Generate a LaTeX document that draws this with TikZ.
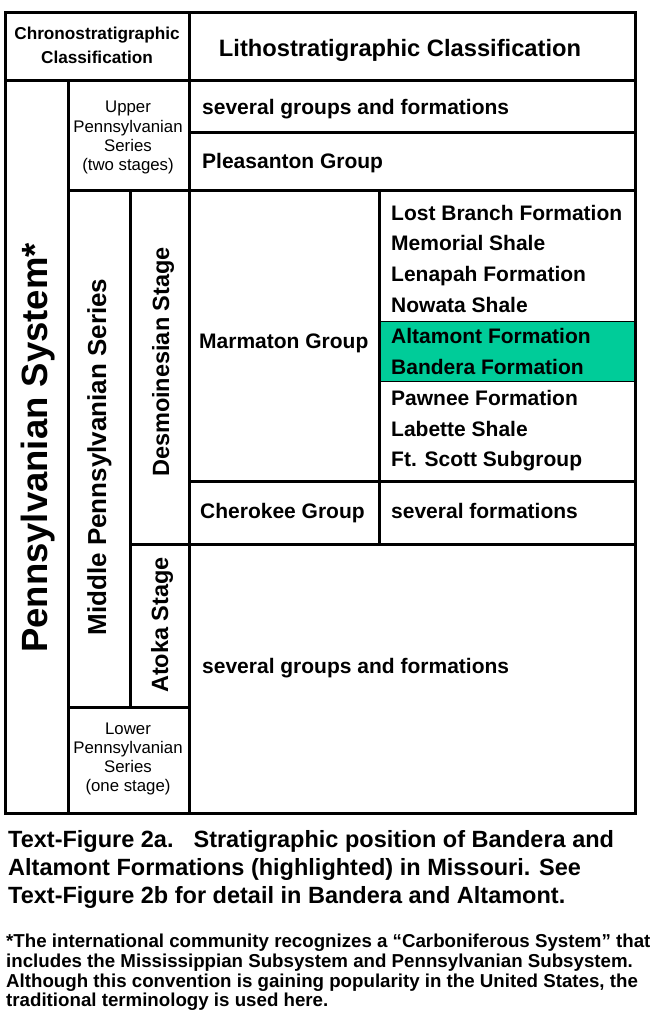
\documentclass[tikz,border=0pt]{standalone}
\usepackage{fontspec}
\setmainfont{Liberation Sans}
\definecolor{hlgreen}{RGB}{0,204,153}
\tikzset{
  tline/.style={line width=3pt, line cap=rect},
  thinline/.style={line width=1pt},
  litho/.style={anchor=base west, inner sep=0pt, font=\bfseries\fontsize{21}{25}\selectfont},
  hdrbig/.style={anchor=base, inner sep=0pt, font=\bfseries\fontsize{23.7}{27}\selectfont},
  hdrsmall/.style={anchor=base, inner sep=0pt, font=\bfseries\fontsize{17.2}{20}\selectfont},
  serieslab/.style={anchor=base, inner sep=0pt, font=\fontsize{16.8}{19}\selectfont},
  vlab/.style={anchor=base, inner sep=0pt, rotate=90, font=\bfseries\fontsize{23.5}{27}\selectfont},
  captxt/.style={anchor=base west, inner sep=0pt, font=\bfseries\fontsize{23.5}{28}\selectfont},
  fntxt/.style={anchor=base west, inner sep=0pt, font=\bfseries\fontsize{18.7}{20}\selectfont},
}
\begin{document}
\begin{tikzpicture}[x=1pt, y=-1pt]
\useasboundingbox[fill=white] (0,0) rectangle (657,1014);

% highlight
\fill[hlgreen] (379,321) rectangle (635,381);
\draw[thinline] (379,321) -- (635,321);
\draw[thinline] (379,381) -- (635,381);

% table grid
\draw[tline] (5,13) rectangle (635,813);
\draw[tline] (5,81) -- (635,81);
\draw[tline] (189,13) -- (189,813);
\draw[tline] (68,81) -- (68,813);
\draw[tline] (189,133) -- (635,133);
\draw[tline] (68,190) -- (635,190);
\draw[tline] (130,190) -- (130,707);
\draw[tline] (379,190) -- (379,544);
\draw[tline] (189,481) -- (635,481);
\draw[tline] (130,544) -- (635,544);
\draw[tline] (68,707) -- (189,707);

% headers
\node[hdrsmall] (ch1) at (97,40) {Chronostratigraphic};
\node[hdrsmall] (ch2) at (97,64) {Classification};
\node[hdrbig] (lh) at (400,57) {Lithostratigraphic Classification};

% upper series
\node[serieslab] (up1) at (128,113) {Upper};
\node[serieslab] (up2) at (128,132) {Pennsylvanian};
\node[serieslab] (up3) at (128,151) {Series};
\node[serieslab] (up4) at (128,170) {(two stages)};

% lower series
\node[serieslab] (lo1) at (128,734) {Lower};
\node[serieslab] (lo2) at (128,753) {Pennsylvanian};
\node[serieslab] (lo3) at (128,772) {Series};
\node[serieslab] (lo4) at (128,791) {(one stage)};

% vertical labels
\node[vlab, font=\bfseries\fontsize{36.5}{40}\selectfont] (sys) at (47,448) {Pennsylvanian System*};
\node[vlab, font=\bfseries\fontsize{26}{29}\selectfont] (mid) at (106,457) {Middle Pennsylvanian Series};
\node[vlab] (des) at (169,362) {Desmoinesian Stage};
\node[vlab] (ato) at (168,625) {Atoka Stage};

% lithostratigraphy
\node[litho] (sg1) at (202,115) {several groups and formations};
\node[litho] (ple) at (202,168) {Pleasanton Group};
\node[litho] (mar) at (199,348) {Marmaton Group};
\node[litho] (che) at (200,518) {Cherokee Group};
\node[litho] (sf) at (391,518) {several formations};
\node[litho] (sg2) at (202,673) {several groups and formations};

\node[litho] (f1) at (391,220) {Lost Branch Formation};
\node[litho] (f2) at (391,250.9) {Memorial Shale};
\node[litho] (f3) at (391,281.8) {Lenapah Formation};
\node[litho] (f4) at (391,312.5) {Nowata Shale};
\node[litho] (f5) at (391,343.4) {Altamont Formation};
\node[litho] (f6) at (391,374.3) {Bandera Formation};
\node[litho] (f7) at (391,405.2) {Pawnee Formation};
\node[litho] (f8) at (391,436) {Labette Shale};
\node[litho] (f9) at (391,466.5) {Ft. Scott Subgroup};

% caption
\node[captxt] (c1) at (8,847) {Text-Figure 2a.\hspace{20pt}Stratigraphic position of Bandera and};
\node[captxt] (c2) at (8,875) {Altamont Formations (highlighted) in Missouri. See};
\node[captxt] (c3) at (8,903) {Text-Figure 2b for detail in Bandera and Altamont.};

% footnote
\node[fntxt] (n1) at (6,947) {*The international community recognizes a “Carboniferous System” that};
\node[fntxt] (n2) at (6,967) {includes the Mississippian Subsystem and Pennsylvanian Subsystem.};
\node[fntxt] (n3) at (6,987) {Although this convention is gaining popularity in the United States, the};
\node[fntxt] (n4) at (6,1006) {traditional terminology is used here.};
\end{tikzpicture}
\end{document}
